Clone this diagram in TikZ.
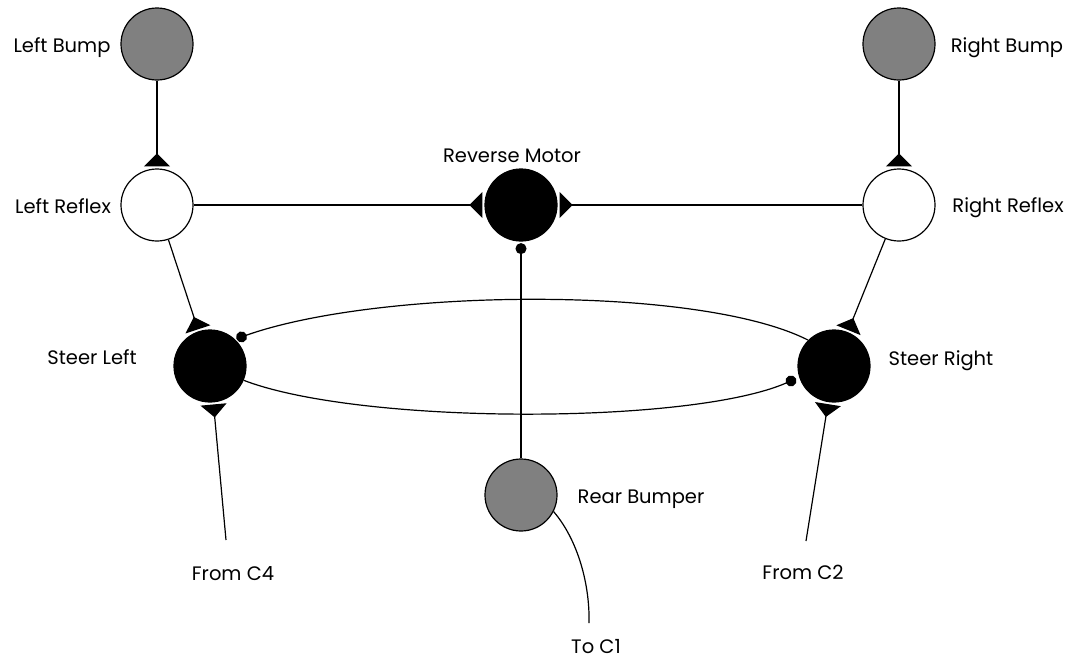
\documentclass[tikz,border=0pt]{standalone}
\usepackage{fontspec}
\setmainfont{Poppins}
\usetikzlibrary{arrows.meta}
\begin{document}
\begin{tikzpicture}[x=1pt, y=-1pt,
  neuron/.style={circle, draw, line width=1.2pt, minimum size=72pt, inner sep=0pt},
  sensor/.style={neuron, fill=gray},
  inter/.style={neuron, fill=white},
  motorcell/.style={neuron, fill=black},
  lbl/.style={font=\fontsize{19.5}{22}\selectfont, anchor=base, inner sep=0pt},
  wire/.style={line width=1.2pt},
  excite/.style={wire, -{Triangle[reversed, width=26pt, length=13pt]}, shorten >=2pt},
  inhibit/.style={wire, -{Circle[length=11pt]}, shorten >=1.5pt}
]
\useasboundingbox (0,0) rectangle (1071,659);

% cells
\node[sensor]    (lbump)   at (157,44)  {};
\node[sensor]    (rbump)   at (899,44)  {};
\node[inter]     (lreflex) at (157,205) {};
\node[inter]     (rreflex) at (899,205) {};
\node[motorcell] (rev)     at (521,205) {};
\node[motorcell] (sleft)   at (210,366) {};
\node[motorcell] (sright)  at (834,366) {};
\node[sensor]    (rear)    at (521,495) {};

% labels
\node[lbl] (tlbump)   at (62,52)   {Left Bump};
\node[lbl] (trbump)   at (1007,52) {Right Bump};
\node[lbl] (tlreflex) at (63,213)  {Left Reflex};
\node[lbl] (trreflex) at (1008,212) {Right Reflex};
\node[lbl] (trev)     at (512,162) {Reverse Motor};
\node[lbl] (tsleft)   at (92,364)  {Steer Left};
\node[lbl] (tsright)  at (941,365) {Steer Right};
\node[lbl] (trear)    at (641,503) {Rear Bumper};
\node[lbl] (tfc4)     at (233,580) {From C4};
\node[lbl] (tfc2)     at (803,579) {From C2};
\node[lbl] (ttc1)     at (596,653) {To C1};

% free ends of the external lines
\coordinate (fc4) at (226,540);
\coordinate (fc2) at (806,541);
\coordinate (tc1) at (589,623);

% excitatory links
\draw[excite] (lbump) -- (lreflex);
\draw[excite] (rbump) -- (rreflex);
\draw[excite] (lreflex) -- (rev);
\draw[excite] (rreflex) -- (rev);
\draw[excite] (lreflex) -- (sleft);
\draw[excite] (rreflex) -- (sright);
\draw[excite] (fc4) -- (sleft);
\draw[excite] (fc2) -- (sright);

% inhibitory links
\draw[inhibit] (rear) -- (rev);
\draw[inhibit] (sright.135) .. controls (700,285) and (380,288) .. (sleft.47);
\draw[inhibit, shorten >=3.5pt] (sleft.-23) .. controls (360,425) and (690,425) .. (sright.198);

% rear bumper output
\draw[wire] (rear.-27) .. controls (578,540) and (590,585) .. (tc1);
\end{tikzpicture}
\end{document}
